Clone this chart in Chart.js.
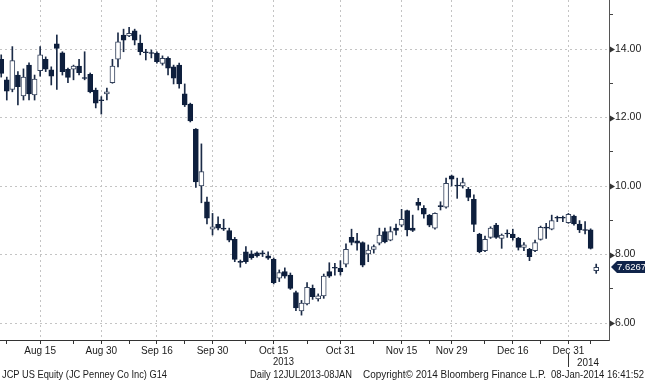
<!DOCTYPE html>
<html>
<head>
<meta charset="utf-8">
<script src="https://cdn.jsdelivr.net/npm/chart.js@4.4.0/dist/chart.umd.min.js"></script>
<style>
  html, body { margin: 0; padding: 0; background: #fff; }
  #wrap { position: relative; width: 645px; height: 380px; overflow: hidden;
          font-family: 'Liberation Sans', Arial, sans-serif; color: #1a1a1a; }
  #wrap canvas { position: absolute; left: 0; top: 0; }
  .txt { position: absolute; font-size: 11px; line-height: 12px; white-space: nowrap; transform-origin: 0 0; }
</style>
</head>
<body>
<div id="wrap">
  <canvas id="chart" width="645" height="380"></canvas>
  <div class="txt" data-w="21" style="left:273px;top:355px">2013</div>
  <div style="position:absolute;left:568px;top:354px;width:0;height:13px;border-left:1px solid #333"></div>
  <div class="txt" data-w="22" style="left:577px;top:356px">2014</div>
  <div class="txt" data-w="165" style="left:2px;top:368px">JCP US Equity (JC Penney Co Inc) G14</div>
  <div class="txt" data-w="102" style="left:250px;top:368px">Daily 12JUL2013-08JAN</div>
  <div class="txt" data-w="183" style="left:363px;top:368px">Copyright© 2014 Bloomberg Finance L.P.</div>
  <div class="txt" data-w="93" style="left:551px;top:368px">08-Jan-2014 16:41:52</div>
</div>
<script>
// trading days shown (Aug 6 is cut at the left edge)
const dates = ['Aug 6','Aug 7','Aug 8','Aug 9','Aug 12','Aug 13','Aug 14','Aug 15','Aug 16',
  'Aug 19','Aug 20','Aug 21','Aug 22','Aug 23','Aug 26','Aug 27','Aug 28','Aug 29','Aug 30',
  'Sep 3','Sep 4','Sep 5','Sep 6','Sep 9','Sep 10','Sep 11','Sep 12','Sep 13',
  'Sep 16','Sep 17','Sep 18','Sep 19','Sep 20','Sep 23','Sep 24','Sep 25','Sep 26','Sep 27',
  'Sep 30','Oct 1','Oct 2','Oct 3','Oct 4','Oct 7','Oct 8','Oct 9','Oct 10','Oct 11',
  'Oct 14','Oct 15','Oct 16','Oct 17','Oct 18','Oct 21','Oct 22','Oct 23','Oct 24','Oct 25',
  'Oct 28','Oct 29','Oct 30','Oct 31','Nov 1','Nov 4','Nov 5','Nov 6','Nov 7','Nov 8',
  'Nov 11','Nov 12','Nov 13','Nov 14','Nov 15','Nov 18','Nov 19','Nov 20','Nov 21','Nov 22',
  'Nov 25','Nov 26','Nov 27','Nov 29','Dec 2','Dec 3','Dec 4','Dec 5','Dec 6',
  'Dec 9','Dec 10','Dec 11','Dec 12','Dec 13','Dec 16','Dec 17','Dec 18','Dec 19','Dec 20',
  'Dec 23','Dec 24','Dec 26','Dec 27','Dec 30','Dec 31','Jan 2','Jan 3','Jan 6','Jan 7','Jan 8'];

const open = [13.70,13.10,12.82,13.24,12.63,13.53,12.66,13.37,13.70,
  13.39,14.15,13.89,13.41,13.41,13.50,13.15,13.26,12.80,12.50,
  12.69,13.02,13.70,14.41,14.38,14.53,14.17,13.89,13.88,
  13.88,13.58,13.73,13.48,13.53,12.69,12.39,11.66,10.00,9.54,
  8.74,8.88,8.74,8.70,8.44,7.77,8.08,8.02,8.05,8.02,
  7.96,7.86,7.31,7.50,7.40,6.89,6.35,6.56,7.01,6.70,
  6.79,7.50,7.60,7.60,7.72,8.50,8.40,8.35,8.02,8.15,
  8.33,8.67,8.42,8.77,8.86,9.28,8.77,9.52,9.35,9.15,
  8.77,9.40,9.38,10.30,10.00,10.00,9.90,9.61,8.60,
  8.11,8.50,8.86,8.47,8.60,8.60,8.47,8.21,8.15,8.11,
  8.44,8.77,8.74,9.06,9.06,8.93,9.12,8.89,8.70,8.72,7.53];

const high = [13.83,13.18,14.07,13.34,13.42,13.60,13.24,14.07,13.77,
  13.48,14.41,13.92,13.44,13.53,13.70,13.92,13.30,12.86,12.61,
  12.86,13.70,14.47,14.58,14.63,14.58,14.41,13.99,13.97,
  13.92,13.80,13.77,13.53,13.59,12.98,12.42,11.68,11.23,9.68,
  9.20,9.10,9.03,8.77,8.50,7.84,8.23,8.11,8.08,8.11,
  8.08,7.90,7.55,7.61,7.46,6.93,6.66,7.18,7.11,6.85,
  7.43,7.76,7.74,7.82,8.31,8.74,8.62,8.37,8.28,8.28,
  8.77,8.77,8.81,8.89,9.32,9.30,9.15,9.64,9.43,9.17,
  9.22,9.54,10.23,10.32,10.23,10.23,9.96,9.74,8.62,
  8.54,8.81,8.91,8.60,8.72,8.74,8.50,8.35,8.18,8.42,
  8.83,8.91,9.15,9.12,9.12,9.20,9.15,8.99,8.96,8.75,7.72];

const low = [13.18,12.51,12.75,12.37,12.51,12.51,12.51,13.21,13.34,
  12.95,12.82,13.24,13.02,13.10,13.24,13.10,12.72,12.28,12.10,
  12.51,13.00,13.48,13.92,14.36,14.12,13.83,13.68,13.74,
  13.59,13.53,13.24,12.98,12.86,12.32,11.87,9.96,9.51,8.89,
  8.57,8.72,8.70,8.37,7.79,7.63,7.74,7.86,7.92,7.94,
  7.86,7.14,7.21,7.31,6.98,6.36,6.23,6.53,6.69,6.64,
  6.72,7.33,7.40,7.40,7.64,8.28,8.13,7.64,7.79,8.04,
  8.28,8.34,8.40,8.57,8.81,8.54,8.67,9.30,9.06,8.81,
  8.74,9.30,9.35,10.00,9.64,9.94,9.57,8.67,8.05,
  8.08,8.47,8.47,8.18,8.50,8.42,8.13,8.11,7.82,8.08,
  8.42,8.47,8.72,8.96,8.96,8.91,8.86,8.64,8.60,8.16,7.45];

const close = [13.29,12.77,13.66,12.90,13.18,12.69,13.12,13.83,13.41,
  13.21,14.02,13.34,13.17,13.50,13.31,13.14,12.75,12.42,12.49,
  12.75,13.50,14.21,14.26,14.46,14.26,13.92,13.89,13.87,
  13.63,13.73,13.44,13.15,12.98,12.37,11.90,10.12,10.42,9.06,
  8.81,8.77,8.74,8.42,7.86,7.77,7.79,7.91,7.96,8.02,
  7.89,7.18,7.47,7.37,7.01,6.44,6.58,7.04,6.77,6.79,
  7.37,7.37,7.60,7.50,8.15,8.35,8.33,7.69,8.13,8.23,
  8.57,8.37,8.67,8.70,9.03,8.72,8.70,9.43,9.18,8.86,
  9.20,9.40,10.08,10.20,10.00,10.10,9.67,8.88,8.08,
  8.44,8.77,8.50,8.57,8.60,8.49,8.21,8.28,7.94,8.35,
  8.79,8.77,8.99,9.06,9.06,9.17,8.89,8.72,8.70,8.18,7.6267];

const xTickLabels = ['Aug 15','Aug 30','Sep 16','Sep 30','Oct 15','Oct 31','Nov 15','Nov 29','Dec 16','Dec 31'];
const yTickValues = [6, 7, 8, 9, 10, 11, 12, 13, 14, 15];

const FONT = "'Liberation Sans', Arial, sans-serif";
const NAVY = '#0e1f3d';
const isUp = i => close[i] > open[i];

// squeeze the footer texts to the narrow widths of the original
document.querySelectorAll('[data-w]').forEach(el => {
  const w = el.getBoundingClientRect().width;
  el.style.transform = 'scaleX(' + (el.dataset.w / w) + ')';
});

// major x ticks at labelled dates, minor ticks roughly half way between
const majorIdx = xTickLabels.map(l => dates.indexOf(l));
const xLabelAt = {};
majorIdx.forEach((v, k) => { xLabelAt[v] = xTickLabels[k]; });
const minorIdx = [1];
for (let k = 0; k < majorIdx.length - 1; k++) minorIdx.push(Math.round((majorIdx[k] + majorIdx[k + 1]) / 2));
minorIdx.push(majorIdx[majorIdx.length - 1] + 4);

const tagPlugin = {
  id: 'tagPlugin',
  afterDraw(chart) {
    const {ctx, scales: {y}} = chart;
    const ax = y.left;
    ctx.save();
    ctx.fillStyle = '#333';
    y.ticks.forEach(t => {
      if (t.value % 2 !== 0) return;
      const py = Math.round(y.getPixelForValue(t.value)) + 0.5;
      ctx.beginPath();
      ctx.moveTo(ax + 1, py - 3);
      ctx.lineTo(ax + 6, py);
      ctx.lineTo(ax + 1, py + 3);
      ctx.closePath();
      ctx.fill();
    });
    const last = close[close.length - 1];
    const py = Math.round(y.getPixelForValue(last));
    ctx.fillStyle = '#10244a';
    ctx.beginPath();
    ctx.moveTo(ax + 2, py);
    ctx.lineTo(ax + 8, py - 6);
    ctx.lineTo(645, py - 6);
    ctx.lineTo(645, py + 6);
    ctx.lineTo(ax + 8, py + 6);
    ctx.closePath();
    ctx.fill();
    ctx.fillStyle = '#fff';
    ctx.font = '9.5px ' + FONT;
    ctx.textBaseline = 'middle';
    ctx.fillText(last.toFixed(4), ax + 8, py + 0.5);
    ctx.restore();
  }
};

const ctx = document.getElementById('chart').getContext('2d');
new Chart(ctx, {
  type: 'bar',
  data: {
    datasets: [{
      label: 'High-Low',
      data: dates.map((d, i) => ({x: i, y: [low[i], high[i]]})),
      backgroundColor: '#1b2b47',
      borderWidth: 0,
      barThickness: 1,
      grouped: false,
      order: 2
    }, {
      label: 'Open-Close',
      data: dates.map((d, i) => ({x: i, y: [open[i], close[i]]})),
      backgroundColor: c => isUp(c.dataIndex) ? '#ffffff' : NAVY,
      borderColor: c => isUp(c.dataIndex) ? '#34425c' : NAVY,
      borderWidth: 1,
      borderSkipped: false,
      barThickness: 5,
      minBarLength: 1,
      grouped: false,
      order: 1
    }]
  },
  options: {
    responsive: false,
    animation: false,
    layout: {padding: 0},
    plugins: {legend: {display: false}, tooltip: {enabled: false}},
    scales: {
      x: {
        type: 'linear',
        min: -0.22,
        max: 109.3,
        offset: false,
        grid: {
          offset: false,
          color: c => (c.tick && xLabelAt[c.tick.value]) ? '#c4c4c4' : 'rgba(0,0,0,0)',
          tickColor: '#333',
          tickLength: 4
        },
        border: {color: '#333', dash: [2, 3]},
        ticks: {
          autoSkip: false,
          maxRotation: 0,
          padding: 1,
          color: '#1a1a1a',
          font: {family: FONT, size: 10},
          callback: v => xLabelAt[v] || ''
        },
        afterBuildTicks: s => {
          s.ticks = majorIdx.concat(minorIdx).sort((a, b) => a - b).map(v => ({value: v}));
        },
        afterFit: s => { s.height = 40; s.paddingLeft = 0; s.paddingRight = 0; }
      },
      y: {
        position: 'right',
        min: 5.504,
        max: 15.431,
        grid: {
          color: c => (c.tick && c.tick.value % 2 === 0) ? '#c4c4c4' : 'rgba(0,0,0,0)',
          tickColor: '#444',
          tickLength: 4
        },
        border: {color: '#555', dash: [2, 3]},
        ticks: {
          padding: 2,
          color: '#1a1a1a',
          font: {family: FONT, size: 10.5},
          callback: v => v % 2 === 0 ? v.toFixed(2) : ''
        },
        afterBuildTicks: s => { s.ticks = yTickValues.map(v => ({value: v})); },
        afterFit: s => { s.width = 36; s.paddingTop = 0; s.paddingBottom = 0; }
      }
    }
  },
  plugins: [tagPlugin]
});
</script>
</body>
</html>
